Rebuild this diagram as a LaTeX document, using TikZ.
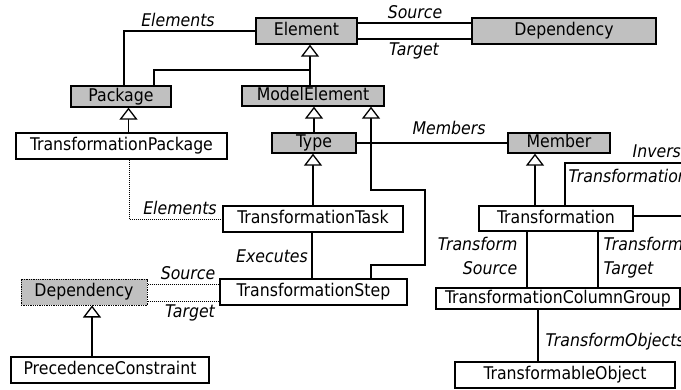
\documentclass[tikz,border=0pt]{standalone}
\usepackage{fontspec}
\setmainfont{DejaVu Sans Condensed}
\usetikzlibrary{arrows.meta}
\definecolor{boxgray}{RGB}{192,192,192}
\tikzset{
  base/.style={draw, line width=1.3pt, inner sep=0pt, text height=12pt, text depth=3pt, font=\fontsize{17.5}{20}\selectfont},
  wbox/.style={base, fill=white},
  gbox/.style={base, fill=boxgray},
  dbox/.style={base, fill=boxgray, densely dotted, line width=1pt},
  lbl/.style={inner sep=0pt, text height=12pt, text depth=3pt, font=\fontsize{17.5}{20}\selectfont\itshape},
  inh/.style={-{Triangle[width=18pt,length=12pt,fill=white]}},
  dots/.style={densely dotted, line width=1pt},
}
\begin{document}
\begin{tikzpicture}[x=1pt,y=-1pt,line width=1.3pt]
\useasboundingbox (0,0) rectangle (681,389);
\clip (0,0) rectangle (681,389);
% nodes
\node[gbox, minimum width=101pt, minimum height=26pt] (elem) at (306.5,31) {Element};
\node[gbox, minimum width=184pt, minimum height=26pt] (dep) at (564,31) {Dependency};
\node[gbox, minimum width=100pt, minimum height=21pt] (pkg) at (121,96.5) {Package};
\node[gbox, minimum width=142pt, minimum height=20pt] (mel) at (313,96) {ModelElement};
\node[wbox, minimum width=211pt, minimum height=26pt] (tpkg) at (121.5,146) {TransformationPackage};
\node[gbox, minimum width=84pt, minimum height=20pt] (type) at (314,143) {Type};
\node[gbox, minimum width=102pt, minimum height=20pt] (member) at (559,143) {Member};
\node[wbox, minimum width=180pt, minimum height=26pt] (ttask) at (313,219) {TransformationTask};
\node[wbox, minimum width=154pt, minimum height=25pt] (trans) at (556,218.5) {Transformation};
\node[wbox, minimum width=187pt, minimum height=26pt] (tstep) at (313.5,292) {TransformationStep};
\node[dbox, minimum width=126pt, minimum height=26pt] (dep2) at (84,292) {Dependency};
\node[wbox, minimum width=244pt, minimum height=21pt] (tcg) at (558,298.5) {TransformationColumnGroup};
\node[wbox, minimum width=220pt, minimum height=26pt] (tobj) at (565,375) {TransformableObject};
\node[wbox, minimum width=198pt, minimum height=26pt] (pc) at (110,370) {PrecedenceConstraint};
% helper coordinates
\coordinate (j1) at (310,70);
\coordinate (k1) at (425,265);
\coordinate (k2) at (425,190);
\coordinate (inv) at (690,163);
\coordinate (tr) at (690,216);
\path ([yshift=8pt]elem.east) coordinate (es);
\path ([yshift=-8pt]elem.east) coordinate (et);
\path ([xshift=3pt]pkg.north) coordinate (pa);
\path ([xshift=33pt]pkg.north) coordinate (pb);
\path ([xshift=7pt]tpkg.north) coordinate (pc1);
\path ([xshift=57.5pt]tstep.north) coordinate (ts1);
\path ([xshift=58pt]mel.south) coordinate (me2);
\path ([xshift=-1.5pt]tstep.north) coordinate (ex);
\path ([xshift=7.5pt]tpkg.south) coordinate (tpd);
\path ([yshift=8pt]dep2.east) coordinate (ds);
\path ([yshift=-9pt]dep2.east) coordinate (dt);
\path ([xshift=-18pt]pc.north) coordinate (pcn);
\path ([xshift=-21pt]trans.north) coordinate (trn);
\path ([xshift=9pt]trans.north) coordinate (tri);
\path ([yshift=2.5pt]trans.east) coordinate (tre);
\path ([xshift=-29pt]trans.south) coordinate (tss);
\path ([xshift=42pt]trans.south) coordinate (tst);
\path ([xshift=-20pt]tcg.south) coordinate (tco);
% connectors
\draw (elem.west) -| (pa);
\draw (es) -- (es -| dep.west);
\draw (et) -- (et -| dep.west);
\draw[inh] (mel.north -| j1) -- (elem.south -| j1);
\draw (pb) |- (j1);
\draw[inh] (pc1) -- (pc1 |- pkg.south);
\draw[inh] (type.north) -- (type.north |- mel.south);
\draw[inh] (ts1) |- (k1) -- (k2) -| (me2);
\draw[inh] (ttask.north) -- (ttask.north |- type.south);
\draw (type.east) -- (member.west);
\draw (ex) -- (ex |- ttask.south);
\draw[dots] (tpd) |- (ttask.west);
\draw[dots] (ds) -- (ds -| tstep.west);
\draw[dots] (dt) -- (dt -| tstep.west);
\draw[inh] (pcn) -- (pcn |- dep2.south);
\draw[inh] (trn) -- (trn |- member.south);
\draw (tri) |- (inv);
\draw (tre) -- (tr);
\draw (tss) -- (tss |- tcg.north);
\draw (tst) -- (tst |- tcg.north);
\draw (tco) -- (tco |- tobj.north);
% labels
\node[lbl] (l1) at (178,22) {Elements};
\node[lbl] (l2) at (415,14) {Source};
\node[lbl] (l3) at (414,51) {Target};
\node[lbl] (l4) at (449,130) {Members};
\node[lbl] (l5) at (180,210) {Elements};
\node[lbl] (l6) at (272,258) {Executes};
\node[lbl] (l7) at (188,275) {Source};
\node[lbl] (l8) at (190,313) {Target};
\node[lbl, anchor=east] (l9) at (518,246) {Transform};
\node[lbl, anchor=east] (l10) at (518,270) {Source};
\node[lbl, anchor=west] (l11) at (603,246) {Transform};
\node[lbl, anchor=west] (l12) at (603,270) {Target};
\node[lbl, anchor=west] (l13) at (632,153) {Inverse};
\node[lbl, anchor=west] (l14) at (568,178) {Transformation};
\node[lbl, anchor=west] (l15) at (545,342) {TransformObjects};
\end{tikzpicture}
\end{document}
